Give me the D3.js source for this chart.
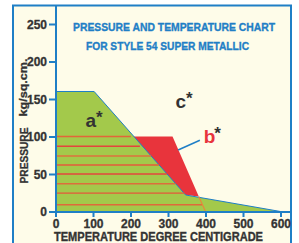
<!DOCTYPE html>
<html><head><meta charset="utf-8">
<script src="https://cdn.jsdelivr.net/npm/d3@7"></script>
<style>
html,body{margin:0;padding:0;background:#fff;}
svg{display:block;}
</style></head>
<body>
<svg id="c" width="299" height="243"></svg>
<script>
// ---- data ----
const xTicks = [0,100,200,300,400,500,600];
const yTicks = [0,50,100,150,200,250];
const titleLines = ["PRESSURE AND TEMPERATURE CHART","FOR STYLE 54 SUPER METALLIC"];
const xTitle = "TEMPERATURE DEGREE CENTIGRADE";
const yTitle = "PRESSURE";
const yUnit = "kg/sq.cm.";
// zone a (green) outline: [temperature, pressure]
const zoneA = [[0,0],[0,160],[103,160],[347,22],[600,0]];
// zone b (red)
const zoneB = [[205,100],[312,100],[382,20],[347,22]];
// hatch lines inside zone a: pressure and end temperature
const hatchPressure = [100,87,74,62,50,37,24.5,9];
const hatchEnd = [201,225,255,276,297,320,344,391];
const hatchColor = ["#e2663a","#e4453c","#de703c","#e55a3a","#e4453c","#dd6e3c","#e4573a","#e0693a"];
const slantLine = [[382,20],[400,0]];
const leader = [[385,95],[327,82]];
const zoneLabels = [
  {t:"a", T:80, P:113, col:"#333"},
  {t:"b", T:395, P:92, col:"#e8343c"},
  {t:"c", T:320, P:138, col:"#333"}
];

const svg = d3.select("#c");
const blue = "#1f7fc6";
const x = d3.scaleLinear().domain([0,600]).range([55.5,280.5]);
const y = d3.scaleLinear().domain([0,250]).range([211.5,24]);
const font = "'Liberation Sans', Arial, sans-serif";

// frame
svg.append("rect").attr("x",13).attr("y",5.5).attr("width",278).attr("height",250)
  .attr("fill","#fefce9").attr("stroke",blue).attr("stroke-width",2);

const line = d3.line().x(d=>x(d[0])).y(d=>y(d[1]));

// zone b
svg.append("path").attr("d", line(zoneB)+"Z").attr("fill","#e8343c");
// zone a
svg.append("path").attr("d", line(zoneA)+"Z").attr("fill","#a3c94b");
svg.append("path").attr("d", line(zoneA.slice(1))).attr("fill","none").attr("stroke",blue).attr("stroke-width",1);

// hatch
svg.selectAll(".h").data(hatchPressure).enter().append("line")
  .attr("x1",x(0)).attr("x2",(d,i)=>x(hatchEnd[i]))
  .attr("y1",d=>y(d)).attr("y2",d=>y(d))
  .attr("stroke",(d,i)=>hatchColor[i]).attr("stroke-width",1.3);
svg.append("path").attr("d", line(slantLine)).attr("stroke","#e8883a").attr("stroke-width",1.2).attr("fill","none");
svg.append("path").attr("d", line(leader)).attr("stroke",blue).attr("stroke-width",1.5).attr("fill","none");

// axes
const ax = d3.axisBottom(x).tickValues(xTicks).tickSize(5).tickSizeOuter(0).tickPadding(2);
const gx = svg.append("g").attr("transform","translate(0,212)").call(ax);
const ay = d3.axisLeft(y).tickValues(yTicks).tickSize(7).tickSizeOuter(0).tickPadding(2);
const gy = svg.append("g").attr("transform","translate(56,0)").call(ay);
[gx,gy].forEach(g=>{
  g.select(".domain").remove();
  g.selectAll(".tick line").attr("stroke",blue).attr("stroke-width",2);
  g.selectAll(".tick text").attr("fill","#333").attr("stroke","#333").attr("stroke-width",0.3)
    .style("font","bold 12px "+font);
});
gy.selectAll(".tick text").attr("dy","0.36em");
svg.append("line").attr("x1",56).attr("x2",56).attr("y1",5).attr("y2",213).attr("stroke",blue).attr("stroke-width",2);
svg.append("line").attr("x1",55).attr("x2",291).attr("y1",212).attr("y2",212).attr("stroke",blue).attr("stroke-width",2);

// titles
svg.selectAll(".tt").data(titleLines).enter().append("text")
  .attr("x",(d,i)=>[174,167.5][i]).attr("y",(d,i)=>[31,50][i])
  .attr("text-anchor","middle").attr("fill",blue).attr("stroke",blue).attr("stroke-width",0.35)
  .attr("textLength",(d,i)=>[202,163][i]).attr("lengthAdjust","spacingAndGlyphs")
  .style("font","bold 11.5px "+font).text(d=>d);
svg.append("text").attr("x",158.5).attr("y",240.6).attr("text-anchor","middle").attr("fill","#333")
  .attr("stroke","#333").attr("stroke-width",0.35)
  .attr("textLength",209).attr("lengthAdjust","spacingAndGlyphs")
  .style("font","bold 12px "+font).text(xTitle);
svg.append("text").attr("transform","translate(28,155.5) rotate(-90)").attr("text-anchor","middle").attr("fill","#333")
  .attr("stroke","#333").attr("stroke-width",0.3)
  .attr("textLength",56).attr("lengthAdjust","spacingAndGlyphs")
  .style("font","bold 11.5px "+font).text(yTitle);
svg.append("text").attr("transform","translate(26.5,87.5) rotate(-90)").attr("text-anchor","middle").attr("fill","#333")
  .attr("stroke","#333").attr("stroke-width",0.3)
  .attr("textLength",58).attr("lengthAdjust","spacingAndGlyphs")
  .style("font","bold 11.5px "+font).text(yUnit);

// zone labels
zoneLabels.forEach(l=>{
  svg.append("text").attr("x",x(l.T)).attr("y",y(l.P)).attr("fill",l.col)
    .style("font","bold 19px "+font).text(l.t);
  svg.append("text").attr("x",x(l.T)+10.5).attr("y",y(l.P)-4).attr("fill","#333")
    .style("font","bold 17px "+font).text("*");
});
</script>
</body></html>
